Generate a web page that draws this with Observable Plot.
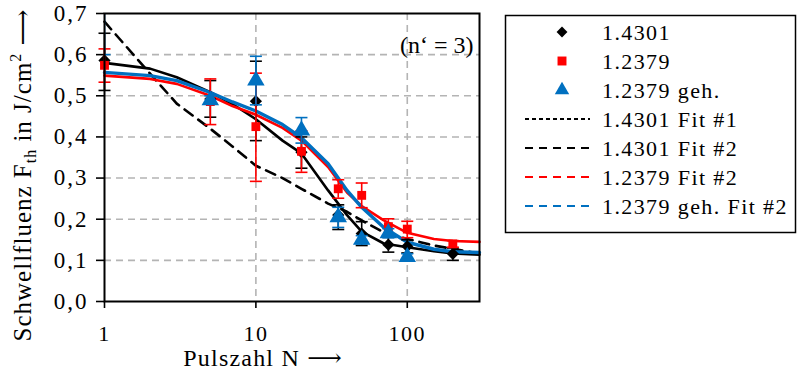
<!DOCTYPE html>
<html><head><meta charset="utf-8">
<script src="https://cdn.jsdelivr.net/npm/d3@7"></script>
<script src="https://cdn.jsdelivr.net/npm/@observablehq/plot@0.6"></script>
<style>body{margin:0;background:#fff}#c{width:798px;height:371px}</style>
</head><body><div id="c"></div>
<script>
// ---- data ----
const pulses = [1, 5, 10, 20, 35, 50, 75, 100, 200];
const val4301 = [0.586, 0.492, 0.487, 0.363, 0.21, 0.165, 0.138, 0.134, 0.116];
const lo4301  = [0.513, 0.448, 0.391, 0.324, 0.175, 0.136, 0.12, 0.118, 0.10];
const hi4301  = [0.652, 0.537, 0.584, 0.40, 0.235, 0.194, 0.156, 0.15, 0.13];
const val2379 = [0.574, 0.486, 0.425, 0.365, 0.274, 0.258, 0.182, 0.176, 0.140];
const lo2379  = [0.533, 0.430, 0.292, 0.314, 0.251, 0.228, 0.16, 0.155, 0.132];
const hi2379  = [0.614, 0.541, 0.555, 0.415, 0.296, 0.288, 0.201, 0.195, 0.148];
const pulsesGeh = [1, 5, 10, 20, 35, 50, 75, 100];
const valGeh  = [0.75, 0.489, 0.537, 0.416, 0.205, 0.150, 0.166, 0.108];
const loGeh   = [0.60, 0.48, 0.478, 0.385, 0.18, 0.14, 0.155, 0.10];
const hiGeh   = [0.90, 0.50, 0.596, 0.447, 0.229, 0.16, 0.177, 0.116];

const fitN        = [1, 2, 3, 5, 7, 10, 15, 20, 30, 40, 50, 70, 100, 150, 200, 300];
const fit1_4301   = [0.68, 0.554, 0.481, 0.42, 0.377, 0.33, 0.30, 0.274, 0.238, 0.218, 0.197, 0.168, 0.152, 0.136, 0.128, 0.116];
const fit2_4301   = [0.58, 0.566, 0.545, 0.509, 0.48, 0.443, 0.391, 0.36, 0.27, 0.21, 0.17, 0.141, 0.132, 0.122, 0.117, 0.114];
const fit2_2379   = [0.549, 0.541, 0.529, 0.50, 0.475, 0.454, 0.422, 0.391, 0.327, 0.265, 0.232, 0.197, 0.167, 0.152, 0.147, 0.145];
const fit2_geh    = [0.557, 0.549, 0.537, 0.508, 0.485, 0.463, 0.43, 0.398, 0.335, 0.27, 0.229, 0.18, 0.144, 0.127, 0.121, 0.119];

const xTicks = [1, 10, 100];
const yTicks = [0, 0.1, 0.2, 0.3, 0.4, 0.5, 0.6, 0.7];
const legendLabels = ["1.4301", "1.2379", "1.2379 geh.", "1.4301 Fit #1", "1.4301 Fit #2", "1.2379 Fit #2", "1.2379 geh. Fit #2"];

const BLACK = "#000000", RED = "#ff0000", BLUE = "#0070c0";
const FONT = "Liberation Serif, DejaVu Serif, serif";

// ---- tables ----
const pts = (ns, v, lo, hi) => ns.map((N, i) => ({N, v: v[i], lo: lo[i], hi: hi[i]}));
const d4301 = pts(pulses, val4301, lo4301, hi4301);
const d2379 = pts(pulses, val2379, lo2379, hi2379);
const dGeh = pts(pulsesGeh, valGeh, loGeh, hiGeh);
const curve = arr => fitN.map((N, i) => ({N, v: arr[i]}));

const cap = {draw(ctx) { ctx.moveTo(-6, 0); ctx.lineTo(6, 0); }};
const grid = {stroke: "#b4b4b4", strokeOpacity: 1, strokeDasharray: "7,5", strokeWidth: 1.6};

function series(data, color, symbol, r, clip) {
  return [
    Plot.ruleX(data, {x: "N", y1: "lo", y2: "hi", stroke: color, strokeWidth: 1.6, clip}),
    Plot.dot(data, {x: "N", y: "lo", symbol: cap, stroke: color, strokeWidth: 1.6, clip}),
    Plot.dot(data, {x: "N", y: "hi", symbol: cap, stroke: color, strokeWidth: 1.6, clip}),
    Plot.dot(data, {x: "N", y: "v", symbol, r, fill: color, stroke: "none", clip})
  ];
}

const chart = Plot.plot({
  width: 798, height: 371,
  marginLeft: 104, marginRight: 319, marginTop: 13, marginBottom: 70,
  style: {fontFamily: FONT, fontSize: "22px", background: "white", color: "black"},
  x: {type: "log", domain: [1, 300]},
  y: {domain: [0, 0.7]},
  marks: [
    Plot.gridY(yTicks.slice(1, 7), grid),
    Plot.gridX([10, 100], grid),
    Plot.axisY(yTicks, {tickFormat: d => d.toFixed(1).replace(".", ","), tickSize: 8, tickPadding: 8, strokeWidth: 1.6, label: null, fontSize: 23}),
    Plot.axisX(xTicks, {tickFormat: d => String(d), tickSize: 7, tickPadding: 17, strokeWidth: 1.6, label: null, fontSize: 22}),
    Plot.line(curve(fit1_4301), {x: "N", y: "v", stroke: BLACK, strokeWidth: 2.6, strokeDasharray: "10,7"}),
    Plot.line(curve(fit2_4301), {x: "N", y: "v", stroke: BLACK, strokeWidth: 2.6}),
    Plot.line(curve(fit2_2379), {x: "N", y: "v", stroke: RED, strokeWidth: 2.6}),
    Plot.line(curve(fit2_geh), {x: "N", y: "v", stroke: BLUE, strokeWidth: 3.4}),
    ...series(d4301, BLACK, "diamond2", 5.5, false),
    ...series(d2379, RED, "square", 5, false),
    ...series(dGeh, BLUE, "triangle", 6.5, true),
    Plot.frame({stroke: "black", strokeWidth: 2}),
    Plot.text(["(n\u2018 = 3)"], {frameAnchor: "top-right", dx: -6, dy: 22, fontSize: 24, fill: "black"})
  ]
});

const svg = d3.select(chart);
svg.selectAll("[aria-label='y-axis tick label'] text").style("letter-spacing", "2px");
svg.selectAll("[aria-label='x-axis tick label'] text").style("letter-spacing", "1.5px");

// axis titles
const yt = svg.append("text").attr("transform", "translate(31,175) rotate(-90)")
  .attr("text-anchor", "middle").attr("font-family", FONT).attr("font-size", 25)
  .style("letter-spacing", "1px").attr("fill", "black");
yt.append("tspan").text("Schwellfluenz F");
yt.append("tspan").attr("font-size", 16).attr("dy", 5).text("th");
yt.append("tspan").attr("dy", -5).text(" in J/cm");
yt.append("tspan").attr("font-size", 16).attr("dy", -10).text("2");
yt.append("tspan").attr("dy", 10).text(" \u27f6");
svg.append("text").attr("x", 263).attr("y", 366).attr("text-anchor", "middle")
  .attr("font-family", FONT).attr("font-size", 24).style("letter-spacing", "1.2px")
  .attr("fill", "black").text("Pulszahl N \u27f6");

// legend
const lg = svg.append("g");
lg.append("rect").attr("x", 505.5).attr("y", 15.5).attr("width", 290).attr("height", 217)
  .attr("fill", "white").attr("stroke", "black").attr("stroke-width", 1.5);
const rowY = i => 32 + i * 29;
const sym = d3.symbol();
const markers = [[d3.symbolDiamond2, BLACK, 75], [d3.symbolSquare, RED, 80], [d3.symbolTriangle, BLUE, 90]];
markers.forEach(([s, c, size], i) => {
  lg.append("path").attr("d", sym.type(s).size(size)()).attr("fill", c)
    .attr("transform", `translate(562,${rowY(i)})`);
});
const lines = [[BLACK, "4,3"], [BLACK, "8,6"], [RED, "8,6"], [BLUE, "8,6"]];
lines.forEach(([c, dash], j) => {
  lg.append("line").attr("x1", 525).attr("x2", 590).attr("y1", rowY(j + 3)).attr("y2", rowY(j + 3))
    .attr("stroke", c).attr("stroke-width", 2).attr("stroke-dasharray", dash);
});
legendLabels.forEach((t, i) => {
  lg.append("text").attr("x", 602).attr("y", rowY(i)).attr("dy", "0.35em").attr("text-anchor", "start")
    .attr("font-family", FONT).attr("font-size", 22).style("letter-spacing", "1.4px")
    .attr("fill", "black").text(t);
});

document.getElementById("c").append(chart);
</script>
</body></html>
